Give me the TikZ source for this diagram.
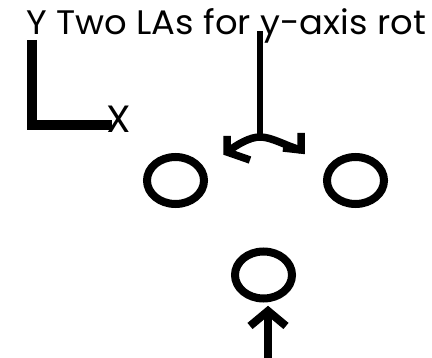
\documentclass[tikz,border=0pt]{standalone}
\usepackage{fontspec}
\setmainfont{Poppins}[FakeStretch=1.04]
\usetikzlibrary{shapes.geometric}
\begin{document}
\begin{tikzpicture}[x=1pt,y=-1pt,
  ring/.style={draw, ellipse, line width=8pt, minimum width=57pt, minimum height=47pt, inner sep=0pt},
  thick axis/.style={line width=10pt, line join=miter, line cap=butt},
  stroke/.style={line width=6pt, line join=miter, line cap=butt},
  headstroke/.style={line width=7.5pt, line join=miter, line cap=butt},
  bigstroke/.style={line width=8pt, line join=miter, line cap=butt}]
\useasboundingbox (0,0) rectangle (432,358);
\fill[white] (0,0) rectangle (432,358);
\node[anchor=base west, inner sep=0pt, font=\fontsize{34}{34}\selectfont] (title) at (26,35) {Y Two LAs for y-axis rot};
% axes
\coordinate (ytop) at (32,40);
\coordinate (origin) at (32,125);
\coordinate (xend) at (112,125);
\draw[thick axis] (ytop) -- (origin) -- (xend);
\node[anchor=base west, inner sep=0pt, font=\fontsize{38}{38}\selectfont] (xlab) at (106,133) {X};
% rings
\node[ring] (left) at (175.5,180.5) {};
\node[ring] (right) at (355.5,180.5) {};
\node[ring] (bottom) at (263.5,275) {};
% vertical line with curved double arrow
\coordinate (vtop) at (260,31);
\coordinate (vjoin) at (260,137);
\coordinate (ltip) at (227,152);
\coordinate (rtip) at (301,150);
\draw[stroke] (vtop) -- (vjoin);
\draw[headstroke] (ltip) .. controls (238,144) and (250,137) .. (vjoin) .. controls (272,137) and (286,146) .. (rtip);
\draw[headstroke] (227,136) -- (ltip) -- (250,160);
\draw[headstroke] (301,133) -- (rtip) -- (283,148);
% bottom arrow
\coordinate (tail) at (268,358);
\coordinate (btip) at (268,311);
\draw[bigstroke] (tail) -- (btip);
\draw[bigstroke] (250,326) -- (btip) -- (286,326);
\end{tikzpicture}
\end{document}
